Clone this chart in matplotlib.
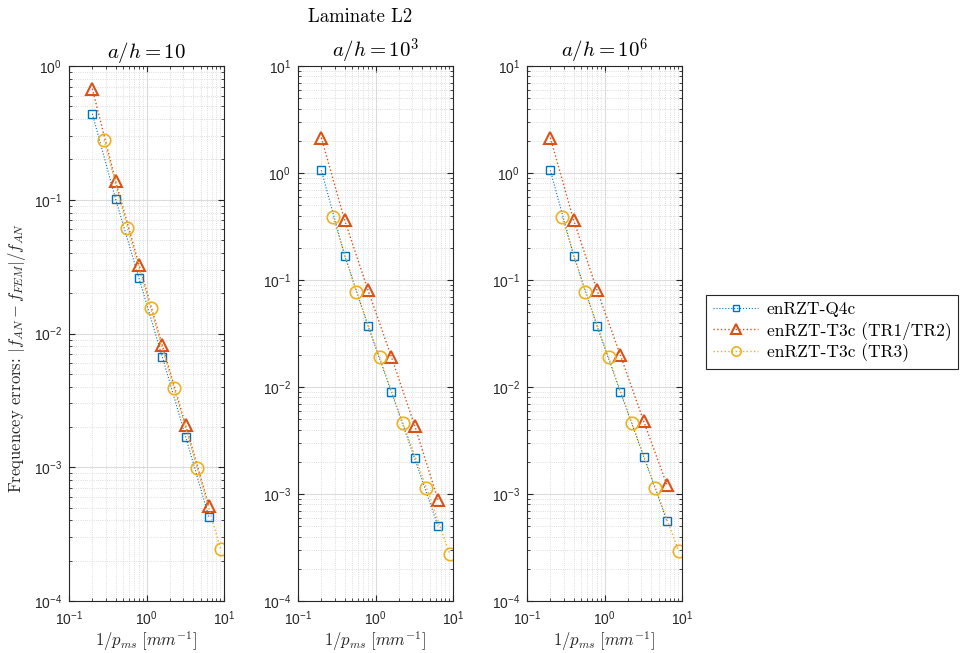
import matplotlib
matplotlib.use("Agg")
import matplotlib.pyplot as plt
from matplotlib.ticker import LogLocator, NullFormatter

plt.rcParams['font.family'] = ['Liberation Sans', 'DejaVu Sans']
plt.rcParams['mathtext.fontset'] = 'cm'

# mesh parameter 1/p_ms
x_q4 = [0.2, 0.4, 0.8, 1.6, 3.2, 6.4]
x_t3 = [0.2, 0.4, 0.8, 1.6, 3.2, 6.4]
x_tr3 = [0.283, 0.566, 1.13, 2.26, 4.53, 9.05]

titles = [r'$a/h = 10$', r'$a/h = 10^3$', r'$a/h = 10^6$']
ylims = [(1e-4, 1e0), (1e-4, 1e1), (1e-4, 1e1)]

# frequency errors, a/h = 10
q4_10 = [0.439, 0.101, 0.0259, 0.00669, 0.00169, 0.000423]
t3_10 = [0.677, 0.137, 0.0328, 0.00815, 0.00206, 0.000512]
tr3_10 = [0.279, 0.0617, 0.0154, 0.0039, 0.00098, 0.000244]
# a/h = 10^3
q4_1e3 = [1.06, 0.169, 0.0373, 0.00897, 0.00215, 0.000501]
t3_1e3 = [2.14, 0.362, 0.0805, 0.0192, 0.00436, 0.000884]
tr3_1e3 = [0.385, 0.078, 0.0189, 0.0046, 0.00115, 0.000276]
# a/h = 10^6
q4_1e6 = [1.06, 0.169, 0.0373, 0.00897, 0.00224, 0.000555]
t3_1e6 = [2.14, 0.362, 0.0805, 0.0199, 0.0048, 0.00121]
tr3_1e6 = [0.385, 0.078, 0.0189, 0.0046, 0.00115, 0.000292]

data = [(q4_10, t3_10, tr3_10), (q4_1e3, t3_1e3, tr3_1e3), (q4_1e6, t3_1e6, tr3_1e6)]

c_blue = '#0072BD'
c_red = '#D95319'
c_yel = '#EDB120'
axcol = '#262626'

fig = plt.figure(figsize=(9.6, 6.53), dpi=100)
lefts = [69, 298, 527]
W, H = 960.0, 653.0
axes = []
for i in range(3):
    ax = fig.add_axes([lefts[i] / W, 1 - 601 / H, 155 / W, 535 / H])
    axes.append(ax)
    q4, t3, tr3 = data[i]
    l1, = ax.loglog(x_q4, q4, ':', color=c_blue, lw=0.8, marker='s', ms=5.5,
                    mfc='none', mec=c_blue, mew=1.0, label='enRZT-Q4c')
    l2, = ax.loglog(x_t3, t3, ':', color=c_red, lw=1.0, marker='^', ms=9,
                    mfc='none', mec=c_red, mew=1.5, label='enRZT-T3c (TR1/TR2)')
    l3, = ax.loglog(x_tr3, tr3, ':', color=c_yel, lw=1.0, marker='o', ms=9,
                    mfc='none', mec=c_yel, mew=1.2, label='enRZT-T3c (TR3)')
    ax.set_xlim(0.1, 10)
    ax.set_ylim(*ylims[i])
    ax.xaxis.set_major_locator(LogLocator(base=10, numticks=10))
    ax.xaxis.set_minor_locator(LogLocator(base=10, subs=range(2, 10), numticks=20))
    ax.yaxis.set_major_locator(LogLocator(base=10, numticks=10))
    ax.yaxis.set_minor_locator(LogLocator(base=10, subs=range(2, 10), numticks=20))
    ax.xaxis.set_minor_formatter(NullFormatter())
    ax.yaxis.set_minor_formatter(NullFormatter())
    ax.grid(True, which='major', color='#dcdcdc', lw=0.8, ls='-')
    ax.grid(True, which='minor', color='#d2d2d2', lw=0.6, ls=':')
    ax.set_axisbelow(True)
    ax.tick_params(which='both', direction='in', top=True, right=True,
                   colors=axcol, labelsize=10)
    ax.tick_params(which='major', length=4)
    ax.tick_params(which='minor', length=2.2)
    ax.tick_params(axis='x', which='major', pad=6)
    ax.tick_params(axis='y', which='major', pad=5)
    for s in ax.spines.values():
        s.set_color(axcol)
        s.set_linewidth(0.8)
    ax.set_title(titles[i], fontsize=15, pad=6)
    ax.set_xlabel(r'$1/p_{ms}\ [mm^{-1}]$', fontsize=12, color=axcol, labelpad=1)

axes[0].set_ylabel(r'Frequencey errors: $|f_{AN}-f_{FEM}|/f_{AN}$',
                   fontsize=12, fontfamily='cmr10', color=axcol)
axes[0].yaxis.set_label_coords(-0.265, 0.455)

fig.text(360 / W, 1 - 17 / H, 'Laminate L2', fontsize=13.5, fontfamily='cmr10',
         ha='center', va='center')

leg = fig.legend(handles=[l1, l2, l3], loc='upper left',
                 bbox_to_anchor=(706 / W, 1 - 295 / H), borderaxespad=0,
                 prop={'family': 'cmr10', 'size': 12.5}, fancybox=False,
                 edgecolor=axcol, framealpha=1, handlelength=2.6,
                 markerscale=0.75, borderpad=0.4, labelspacing=0.2,
                 handletextpad=0.5)
leg.get_frame().set_linewidth(0.8)

fig.savefig('out.png', dpi=100)
